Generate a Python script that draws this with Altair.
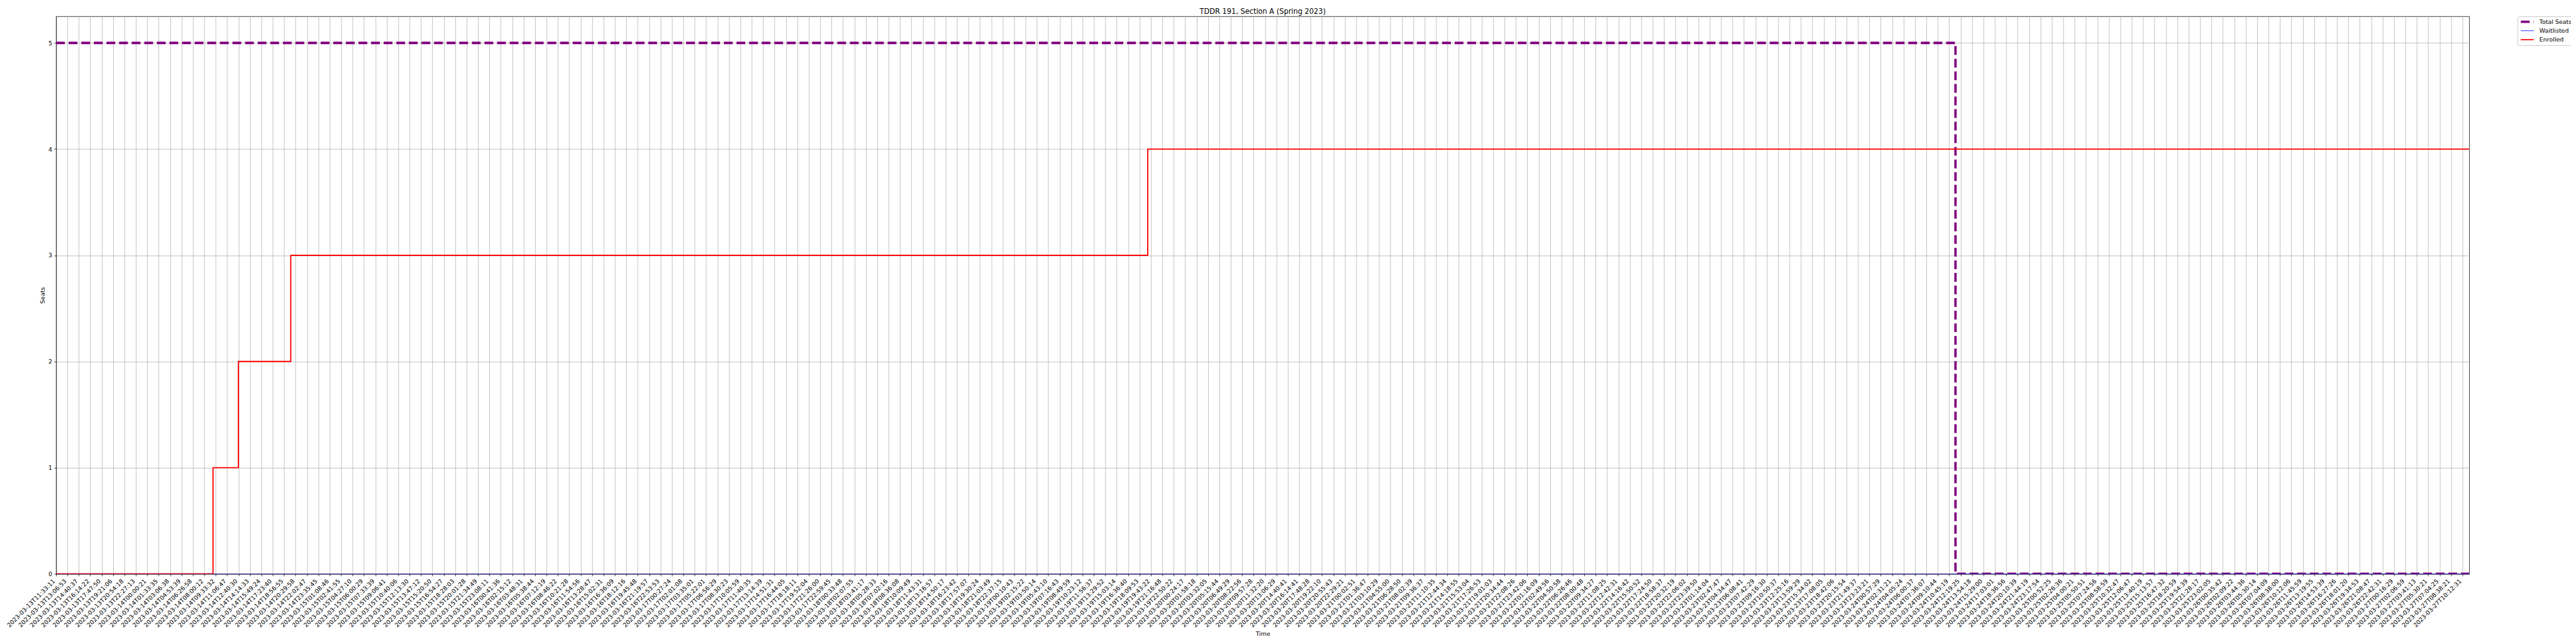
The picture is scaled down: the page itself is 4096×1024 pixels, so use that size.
import altair as alt
import pandas as pd

# ---- data ----
tick_labels = [
    "2023-03-13T11:33:11", "2023-03-13T13:06:53", "2023-03-13T14:40:37", "2023-03-13T16:14:22",
    "2023-03-13T17:47:50", "2023-03-13T19:21:06", "2023-03-13T20:54:18", "2023-03-13T22:27:13",
    "2023-03-14T00:00:21", "2023-03-14T01:33:35", "2023-03-14T03:06:38", "2023-03-14T04:53:39",
    "2023-03-14T06:26:58", "2023-03-14T08:00:12", "2023-03-14T09:33:32", "2023-03-14T11:06:47",
    "2023-03-14T12:40:30", "2023-03-14T14:14:33", "2023-03-14T15:49:24", "2023-03-14T17:23:40",
    "2023-03-14T18:56:55", "2023-03-14T20:29:58", "2023-03-14T22:02:47", "2023-03-14T23:35:45",
    "2023-03-15T01:08:46", "2023-03-15T02:41:55", "2023-03-15T04:27:10", "2023-03-15T06:00:29",
    "2023-03-15T07:33:39", "2023-03-15T09:06:41", "2023-03-15T10:40:06", "2023-03-15T12:13:30",
    "2023-03-15T13:47:12", "2023-03-15T15:20:50", "2023-03-15T16:54:27", "2023-03-15T18:28:03",
    "2023-03-15T20:01:28", "2023-03-15T21:34:49", "2023-03-15T23:08:11", "2023-03-16T00:41:36",
    "2023-03-16T02:15:12", "2023-03-16T03:48:31", "2023-03-16T05:38:44", "2023-03-16T07:12:19",
    "2023-03-16T08:46:22", "2023-03-16T10:21:28", "2023-03-16T11:54:56", "2023-03-16T13:28:47",
    "2023-03-16T15:02:31", "2023-03-16T16:36:09", "2023-03-16T18:12:16", "2023-03-16T19:45:48",
    "2023-03-16T21:19:57", "2023-03-16T22:53:53", "2023-03-17T00:27:24", "2023-03-17T02:01:08",
    "2023-03-17T03:35:01", "2023-03-17T05:22:01", "2023-03-17T06:56:29", "2023-03-17T08:30:23",
    "2023-03-17T10:05:59", "2023-03-17T11:40:35", "2023-03-17T13:14:39", "2023-03-17T14:51:31",
    "2023-03-17T16:44:05", "2023-03-17T18:18:11", "2023-03-17T19:52:04", "2023-03-17T21:26:00",
    "2023-03-17T22:59:45", "2023-03-18T00:33:48", "2023-03-18T02:07:55", "2023-03-18T03:41:17",
    "2023-03-18T05:28:33", "2023-03-18T07:02:16", "2023-03-18T08:36:08", "2023-03-18T10:09:49",
    "2023-03-18T11:43:31", "2023-03-18T13:16:57", "2023-03-18T14:50:17", "2023-03-18T16:23:42",
    "2023-03-18T17:57:07", "2023-03-18T19:30:24", "2023-03-18T21:03:49", "2023-03-18T22:37:15",
    "2023-03-19T00:10:43", "2023-03-19T02:15:22", "2023-03-19T03:50:14", "2023-03-19T05:43:10",
    "2023-03-19T07:16:43", "2023-03-19T08:49:59", "2023-03-19T10:23:12", "2023-03-19T11:56:37",
    "2023-03-19T13:29:52", "2023-03-19T15:03:14", "2023-03-19T16:36:40", "2023-03-19T18:09:53",
    "2023-03-19T19:43:22", "2023-03-19T21:16:48", "2023-03-19T22:50:22", "2023-03-20T00:24:17",
    "2023-03-20T01:58:18", "2023-03-20T03:32:05", "2023-03-20T05:15:44", "2023-03-20T06:49:29",
    "2023-03-20T08:22:56", "2023-03-20T09:57:28", "2023-03-20T11:32:20", "2023-03-20T13:06:29",
    "2023-03-20T14:40:41", "2023-03-20T16:14:41", "2023-03-20T17:48:28", "2023-03-20T19:22:10",
    "2023-03-20T20:55:43", "2023-03-20T22:29:21", "2023-03-21T00:02:51", "2023-03-21T01:36:47",
    "2023-03-21T03:10:29", "2023-03-21T04:55:00", "2023-03-21T06:28:50", "2023-03-21T08:02:39",
    "2023-03-21T09:36:37", "2023-03-21T11:10:35", "2023-03-21T12:44:34", "2023-03-21T14:18:55",
    "2023-03-21T15:53:04", "2023-03-21T17:26:53", "2023-03-21T19:01:03", "2023-03-21T20:34:44",
    "2023-03-21T22:08:26", "2023-03-21T23:42:06", "2023-03-22T01:16:09", "2023-03-22T02:49:56",
    "2023-03-22T04:50:58", "2023-03-22T06:26:46", "2023-03-22T08:00:48", "2023-03-22T09:34:27",
    "2023-03-22T11:08:25", "2023-03-22T12:42:31", "2023-03-22T14:16:42", "2023-03-22T15:50:52",
    "2023-03-22T17:24:50", "2023-03-22T18:58:37", "2023-03-22T20:32:19", "2023-03-22T22:06:02",
    "2023-03-22T23:39:50", "2023-03-23T01:14:04", "2023-03-23T02:47:47", "2023-03-23T04:34:47",
    "2023-03-23T06:08:41", "2023-03-23T07:42:29", "2023-03-23T09:16:30", "2023-03-23T10:50:37",
    "2023-03-23T12:25:16", "2023-03-23T13:59:29", "2023-03-23T15:34:02", "2023-03-23T17:08:05",
    "2023-03-23T18:42:06", "2023-03-23T20:15:54", "2023-03-23T21:49:37", "2023-03-23T23:23:21",
    "2023-03-24T00:57:29", "2023-03-24T02:31:21", "2023-03-24T04:05:24", "2023-03-24T06:00:37",
    "2023-03-24T07:36:07", "2023-03-24T09:10:44", "2023-03-24T10:45:19", "2023-03-24T12:19:25",
    "2023-03-24T13:54:18", "2023-03-24T15:29:00", "2023-03-24T17:03:01", "2023-03-24T18:36:56",
    "2023-03-24T20:10:39", "2023-03-24T21:44:19", "2023-03-24T23:17:54", "2023-03-25T00:52:25",
    "2023-03-25T02:26:36", "2023-03-25T04:00:21", "2023-03-25T05:50:51", "2023-03-25T07:24:56",
    "2023-03-25T08:58:59", "2023-03-25T10:32:47", "2023-03-25T12:06:47", "2023-03-25T13:40:19",
    "2023-03-25T15:13:57", "2023-03-25T16:47:32", "2023-03-25T18:20:59", "2023-03-25T19:54:39",
    "2023-03-25T21:28:17", "2023-03-25T23:02:05", "2023-03-26T00:35:42", "2023-03-26T02:09:22",
    "2023-03-26T03:44:36", "2023-03-26T05:30:14", "2023-03-26T07:04:09", "2023-03-26T08:38:00",
    "2023-03-26T10:12:06", "2023-03-26T11:45:59", "2023-03-26T13:19:55", "2023-03-26T14:53:39",
    "2023-03-26T16:27:26", "2023-03-26T18:01:20", "2023-03-26T19:34:53", "2023-03-26T21:08:47",
    "2023-03-26T22:42:31", "2023-03-27T00:16:29", "2023-03-27T02:06:59", "2023-03-27T03:41:13",
    "2023-03-27T05:30:21", "2023-03-27T07:04:25", "2023-03-27T08:38:21", "2023-03-27T10:12:31",
]

# positions are in tick-index units (0 = first tick label)
x_end = 211.6

total_x = [0, 166.55, x_end]
total_y = [5, 0, 0]

wait_x = [0, x_end]
wait_y = [0, 0]

enr_x = [0, 13.76, 15.99, 20.58, 95.72, x_end]
enr_y = [0, 1, 2, 3, 4, 4]

series_names = ["Total Seats", "Waitlisted", "Enrolled"]
series_colors = ["purple", "blue", "red"]
series_widths = [3.79, 0.95, 1.9]
series_dash = [[14.0, 6.07], [1, 0], [1, 0]]

y_ticks = [0, 1, 2, 3, 4, 5]

# ---- build ----
def frame(xs, ys, name):
    return pd.DataFrame({"idx": xs, "value": ys, "series": [name] * len(xs)})

df_total = frame(total_x, total_y, "Total Seats")
df_wait = frame(wait_x, wait_y, "Waitlisted")
df_enr = frame(enr_x, enr_y, "Enrolled")

label_js = "[" + ",".join("'%s'" % s for s in tick_labels) + "][datum.value]"

x_enc = alt.X(
    "idx:Q",
    scale=alt.Scale(domain=[0, x_end], nice=False, zero=False),
    axis=alt.Axis(
        values=list(range(len(tick_labels))),
        labelExpr=label_js,
        title="Time",
        labelAngle=-45,
        labelAlign="right",
        labelBaseline="bottom",
        labelPadding=10,
        labelOverlap=False,
        labelFlush=False,
        labelBound=False,
        titlePadding=4,
        grid=True,
    ),
)
y_enc = alt.Y(
    "value:Q",
    scale=alt.Scale(domain=[0, 5.25], nice=False, zero=False),
    axis=alt.Axis(values=y_ticks, format="d", title="Seats", labelPadding=3.3,
                  titlePadding=4, grid=True),
)
color_enc = alt.Color(
    "series:N",
    scale=alt.Scale(domain=series_names, range=series_colors),
    legend=alt.Legend(
        title=None, orient="none", legendX=3920.7, legendY=0,
        symbolType="stroke", symbolSize=420, clipHeight=11,
        labelFont="DejaVu Sans", labelFontSize=9.5, labelColor="black",
        labelOffset=6.8, strokeColor="#cccccc", fillColor="white",
        cornerRadius=2.5, padding=3, rowPadding=3.3,
    ),
)
dash_enc = alt.StrokeDash("series:N", scale=alt.Scale(domain=series_names, range=series_dash))
width_enc = alt.StrokeWidth("series:N", scale=alt.Scale(type="ordinal", domain=series_names, range=series_widths))

def layer(df):
    return alt.Chart(df).mark_line(interpolate="step-after", clip=True).encode(
        x=x_enc, y=y_enc, color=color_enc, strokeDash=dash_enc, strokeWidth=width_enc
    )

chart = (
    alt.layer(layer(df_total), layer(df_wait), layer(df_enr))
    .properties(
        width=3843.8,
        height=888,
        title="TDDR 191, Section A (Spring 2023)",
        autosize=alt.AutoSizeParams(type="none"),
        padding={"left": 81.3, "top": 17.2, "right": 162, "bottom": 102},
    )
    .configure_view(stroke="black", strokeWidth=0.76)
    .configure_axis(
        domainColor="black", domainWidth=0.76,
        tickColor="black", tickWidth=0.76, tickSize=3.3,
        labelColor="black", labelFont="DejaVu Sans", labelFontSize=9.5,
        titleColor="black", titleFont="DejaVu Sans", titleFontSize=9.5, titleFontWeight="normal",
        gridColor="#b0b0b0", gridWidth=0.76, gridOpacity=1,
    )
    .configure_title(
        font="DejaVu Sans", fontSize=11.4, fontWeight="normal", color="black",
        anchor="middle", offset=1, baseline="alphabetic",
    )
)

chart.save("out.html", embed_options={"renderer": "svg", "actions": False})
